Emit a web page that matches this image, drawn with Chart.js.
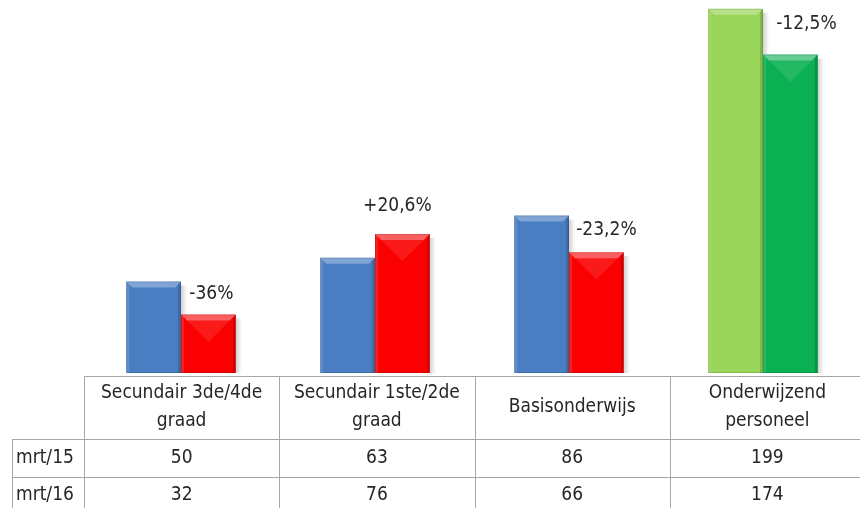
<!DOCTYPE html>
<html>
<head>
<meta charset="utf-8">
<script src="https://cdn.jsdelivr.net/npm/chart.js@4"></script>
<style>
  html, body { margin: 0; padding: 0; background: #fff; }
  #wrap { width: 865px; height: 508px; }
</style>
</head>
<body>
<div id="wrap"><canvas id="chart" width="865" height="508"></canvas></div>
<script>
// categorieen + reeksen
const categorieen = [
  ["Secundair 3de/4de", "graad"],
  ["Secundair 1ste/2de", "graad"],
  ["Basisonderwijs"],
  ["Onderwijzend", "personeel"],
];
const reeksen = ["mrt/15", "mrt/16"];
const mrt15 = [50, 63, 86, 199];
const mrt16 = [32, 76, 66, 174];
const verschil = ["-36%", "+20,6%", "-23,2%", "-12,5%"];

const FONT = "'Liberation Sans Narrow', 'DejaVu Sans Condensed', sans-serif";
const lijnKleur = "#a6a6a6";
// handmatig verschoven labels (zoals in Excel)
const labelDx = [3, -5, 10, 16];
const labelDy = [-20, -28, -22, -31];

// kleuren per balk (laatste groep groen)
const kleur15 = ["#4a7ec2", "#4a7ec2", "#4a7ec2", "#98d558"];
const kleur16 = ["#fa0000", "#fa0000", "#fa0000", "#0bb052"];

// bevel-effect op de balken
const bevelPlugin = {
  id: "bevel",
  beforeDatasetsDraw(chart) {
    // schaduw rechts van de balken
    const c = chart.ctx;
    chart.data.datasets.forEach((ds, di) => {
      chart.getDatasetMeta(di).data.forEach((bar) => {
        const r = bar.x + bar.width / 2;
        const g = c.createLinearGradient(r, 0, r + 6, 0);
        g.addColorStop(0, "rgba(0,0,0,0.18)");
        g.addColorStop(1, "rgba(0,0,0,0)");
        c.fillStyle = g;
        c.fillRect(r, bar.y + 4, 6, bar.base - bar.y - 4);
      });
    });
  },
  afterDatasetsDraw(chart) {
    const c = chart.ctx;
    chart.data.datasets.forEach((ds, di) => {
      const meta = chart.getDatasetMeta(di);
      meta.data.forEach((bar) => {
        const l = bar.x - bar.width / 2, r = bar.x + bar.width / 2;
        const t = bar.y, b = bar.base;
        const w = r - l, d = 6;
        c.save();
        if (di === 1) {
          // zachte V in de tweede reeks
          c.fillStyle = "rgba(255,255,255,0.10)";
          c.beginPath();
          c.moveTo(l, t); c.lineTo(r, t); c.lineTo(bar.x, t + w / 2);
          c.closePath(); c.fill();
        }
        // top bevel licht
        c.fillStyle = "rgba(255,255,255,0.30)";
        c.beginPath();
        c.moveTo(l, t); c.lineTo(r, t); c.lineTo(r - d, t + d); c.lineTo(l + d, t + d);
        c.closePath(); c.fill();
        // linkerkant
        c.fillStyle = "rgba(255,255,255,0.12)";
        c.beginPath();
        c.moveTo(l, t); c.lineTo(l + 3, t + 3); c.lineTo(l + 3, b); c.lineTo(l, b);
        c.closePath(); c.fill();
        // rechterkant donker
        c.fillStyle = "rgba(0,0,0,0.14)";
        c.beginPath();
        c.moveTo(r, t); c.lineTo(r - 3, t + 3); c.lineTo(r - 3, b); c.lineTo(r, b);
        c.closePath(); c.fill();
        // dunne rand
        c.strokeStyle = "rgba(0,0,0,0.12)";
        c.lineWidth = 1;
        c.strokeRect(l + 0.5, t + 0.5, w - 1, b - t - 1);
        c.restore();
      });
    });
  },
};

// percentages + gegevenstabel onder de grafiek
const tabelPlugin = {
  id: "tabel",
  afterDraw(chart) {
    const c = chart.ctx;
    const x = chart.scales.x;
    const area = chart.chartArea;
    const links = area.left;
    const kolom = (chart.width - links) / categorieen.length;
    const rechts = 860;
    const y0 = area.bottom + 3;
    const rij1 = 439, rij2 = 477, onder = chart.height;

    c.save();
    // percentages boven tweede balk
    const meta = chart.getDatasetMeta(1);
    c.fillStyle = "#262626";
    c.font = "19px " + FONT;
    c.textAlign = "center";
    c.textBaseline = "middle";
    meta.data.forEach((bar, i) => {
      c.fillText(verschil[i], bar.x + labelDx[i], bar.y + labelDy[i]);
    });

    // lijnen
    c.strokeStyle = lijnKleur;
    c.lineWidth = 1;
    c.beginPath();
    c.moveTo(links, y0 + 0.5); c.lineTo(rechts, y0 + 0.5);
    c.moveTo(12, rij1 + 0.5); c.lineTo(rechts, rij1 + 0.5);
    c.moveTo(12, rij2 + 0.5); c.lineTo(rechts, rij2 + 0.5);
    c.moveTo(12.5, rij1); c.lineTo(12.5, onder);
    for (let i = 0; i < categorieen.length; i++) {
      const xl = Math.round(links + i * kolom) + 0.5;
      c.moveTo(xl, y0); c.lineTo(xl, onder);
    }
    c.stroke();

    // tekst
    c.fillStyle = "#262626";
    c.font = "19px " + FONT;
    c.textBaseline = "middle";
    categorieen.forEach((lbl, i) => {
      const cx = links + (i + 0.5) * kolom;
      if (lbl.length === 1) {
        c.fillText(lbl[0], cx, 407);
      } else {
        c.fillText(lbl[0], cx, 393);
        c.fillText(lbl[1], cx, 421);
      }
      c.fillText(String(mrt15[i]), cx, 458);
      c.fillText(String(mrt16[i]), cx, 495);
    });
    c.textAlign = "left";
    c.fillText(reeksen[0], 16, 458);
    c.fillText(reeksen[1], 16, 495);
    c.restore();
  },
};

document.addEventListener("DOMContentLoaded", function () {
  const ctx = document.getElementById("chart").getContext("2d");
  new Chart(ctx, {
    type: "bar",
    data: {
      labels: categorieen.map((c) => c.join(" ")),
      datasets: [
        {
          label: reeksen[0],
          data: mrt15,
          backgroundColor: kleur15,
          borderWidth: 0,
        },
        {
          label: reeksen[1],
          data: mrt16,
          backgroundColor: kleur16,
          borderWidth: 0,
        },
      ],
    },
    options: {
      responsive: false,
      animation: false,
      layout: { padding: { left: 84, right: 5, top: 7, bottom: 135 } },
      categoryPercentage: 0.565,
      barPercentage: 1,
      scales: {
        x: { display: false },
        y: { display: false, min: 0, max: 200 },
      },
      plugins: {
        legend: { display: false },
        tooltip: { enabled: false },
      },
    },
    plugins: [bevelPlugin, tabelPlugin],
  });
});
</script>
</body>
</html>
